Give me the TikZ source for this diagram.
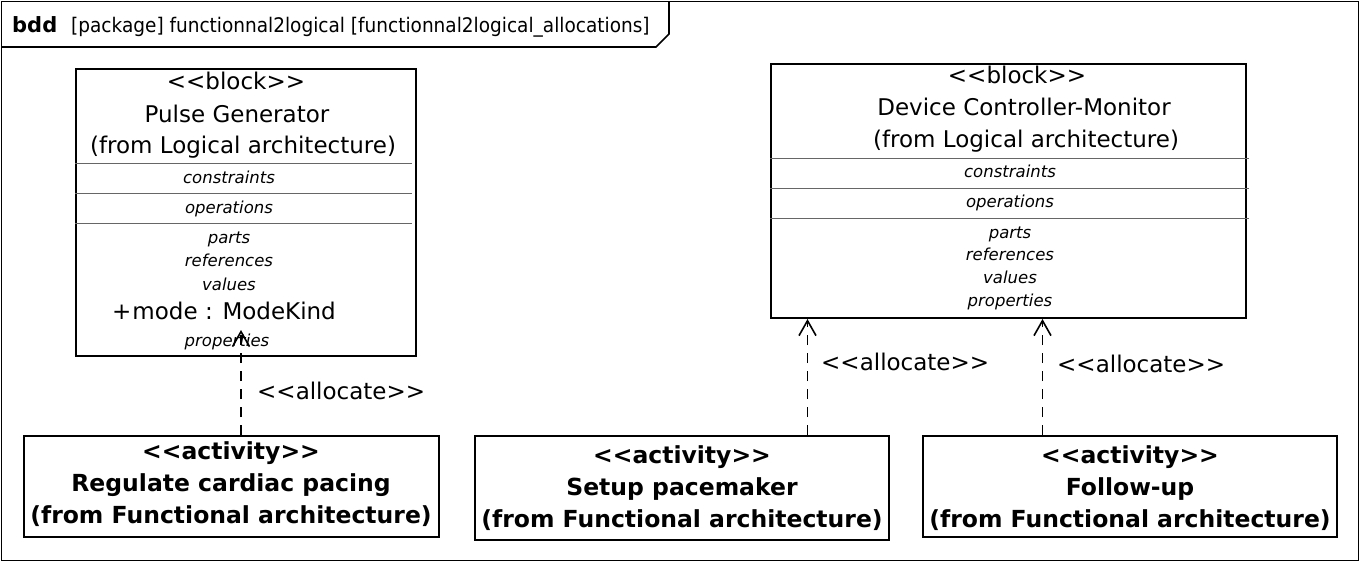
\documentclass[tikz,border=0pt]{standalone}
\usepackage{fontspec}
\setmainfont{DejaVu Sans}
\newfontfamily\condfont[FakeStretch=0.92]{DejaVu Sans}
\usetikzlibrary{arrows.meta}
\newcommand\dlt{<\kern0pt<}
\newcommand\dgt{>\kern0pt>}
\tikzset{
  boxline/.style={draw=black, line width=2pt},
  sepline/.style={draw=black!60, line width=1pt},
  headtxt/.style={font=\fontsize{23}{28}\selectfont, inner sep=0pt, anchor=mid},
  comptxt/.style={font=\fontsize{16.5}{20}\itshape, inner sep=0pt, anchor=mid},
  acttxt/.style={font=\fontsize{23.5}{32}\bfseries, align=center, inner sep=0pt},
  actbox/.style={draw=black, line width=2pt, inner sep=0pt},
  alloc/.style={draw=black, line width=1.6pt, dash pattern=on 10pt off 8pt, -{Straight Barb[length=15pt,width=17pt,line width=1.6pt]}},
  alloclbl/.style={font=\fontsize{23}{28}\selectfont, inner sep=0pt, anchor=mid west}
}
\begin{document}
\begin{tikzpicture}[x=1pt,y=-1pt]
\useasboundingbox (0,0) rectangle (1360,562);
% frame
\draw[line width=1.6pt] (1.5,1.5) rectangle (1358.5,560.5);
\draw[line width=1.6pt] (1.5,47) -- (656,47) -- (669,34) -- (669,1.5);
\node[anchor=mid west, inner sep=0pt, font=\fontsize{21}{24}\bfseries] (bdd) at (12,30) {bdd};
\node[anchor=mid west, inner sep=0pt, font=\fontsize{20.1}{24}\condfont] (ttl) at (71,30) {[package] functionnal2logical [functionnal2logical\_allocations]};

% Pulse Generator block
\node[boxline, minimum width=340pt, minimum height=287pt, inner sep=0pt] (pg) at (246,212) {};
\draw[sepline] (pg.west |- 0,163) -- (412,163);
\draw[sepline] (pg.west |- 0,193) -- (412,193);
\draw[sepline] (pg.west |- 0,223) -- (412,223);
\node[headtxt] (pg1) at (236,87) {\dlt block\dgt};
\node[headtxt] (pg2) at (237,120) {Pulse Generator};
\node[headtxt] (pg3) at (243,151) {(from Logical architecture)};
\node[comptxt] (pgc) at (229,180.5) {constraints};
\node[comptxt] (pgo) at (229,211) {operations};
\node[comptxt] (pgp) at (229,241) {parts};
\node[comptxt] (pgr) at (229,264) {references};
\node[comptxt] (pgv) at (229,288) {values};
\node[headtxt, anchor=mid west] (pgm) at (112,317) {+\kern1pt mode : ModeKind};
\node[comptxt] (pgpr) at (227,344) {properties};

% Device Controller-Monitor block
\node[boxline, minimum width=475pt, minimum height=254pt, inner sep=0pt] (dcm) at (1008.5,191) {};
\draw[sepline] (dcm.west |- 0,158) -- (1249,158);
\draw[sepline] (dcm.west |- 0,188) -- (1249,188);
\draw[sepline] (dcm.west |- 0,218) -- (1249,218);
\node[headtxt] (dc1) at (1017,81) {\dlt block\dgt};
\node[headtxt] (dc2) at (1024,113) {Device Controller-Monitor};
\node[headtxt] (dc3) at (1026,145) {(from Logical architecture)};
\node[comptxt] (dcc) at (1010,175) {constraints};
\node[comptxt] (dco) at (1010,205) {operations};
\node[comptxt] (dcp) at (1010,236) {parts};
\node[comptxt] (dcr) at (1010,258) {references};
\node[comptxt] (dcv) at (1010,281) {values};
\node[comptxt] (dcpr) at (1010,304) {properties};

% activity boxes
\node[actbox, minimum width=415pt, minimum height=101pt] (a1) at (231.5,486.5) {};
\node[acttxt] (a1t) at (231,484) {\dlt activity\dgt\\Regulate cardiac pacing\\(from Functional architecture)};
\node[actbox, minimum width=414pt, minimum height=104pt] (a2) at (682,488) {};
\node[acttxt] (a2t) at (682,488) {\dlt activity\dgt\\Setup pacemaker\\(from Functional architecture)};
\node[actbox, minimum width=414pt, minimum height=101pt] (a3) at (1130,486.5) {};
\node[acttxt] (a3t) at (1130,488) {\dlt activity\dgt\\Follow-up\\(from Functional architecture)};

% allocations
\coordinate (t1) at (241,330);
\coordinate (t2) at (807.5,319);
\coordinate (t3) at (1042.5,319);
\draw[alloc] (a1.north -| t1) -- (t1);
\draw[alloc] (a2.north -| t2) -- (t2);
\draw[alloc] (a3.north -| t3) -- (t3);
\node[alloclbl] (l1) at (257,397) {\dlt allocate\dgt};
\node[alloclbl] (l2) at (821,368) {\dlt allocate\dgt};
\node[alloclbl] (l3) at (1057,370) {\dlt allocate\dgt};
\end{tikzpicture}
\end{document}
